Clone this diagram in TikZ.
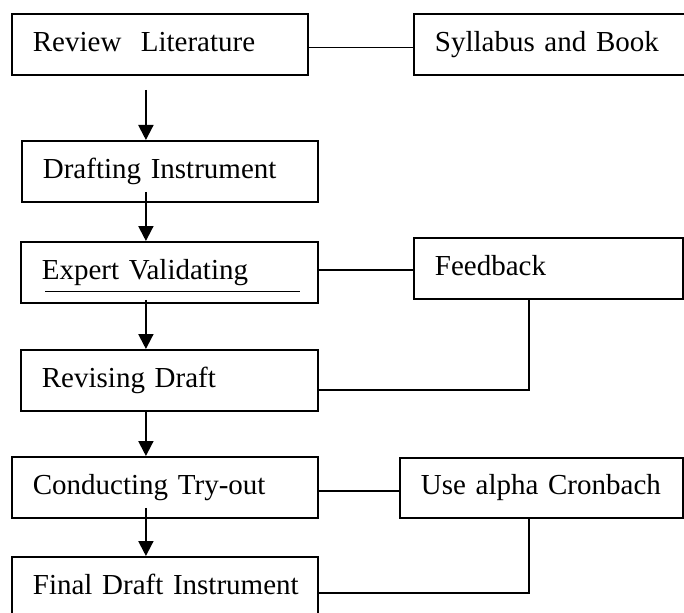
\documentclass[tikz,border=0pt]{standalone}
\usepackage{fontspec}
\setmainfont{Liberation Serif}
\usetikzlibrary{arrows.meta}
\begin{document}
\begin{tikzpicture}[x = 1pt, y = -1pt]
	\tikzstyle{every node} = [font = \fontsize{29}{34}\selectfont]
	\tikzstyle{box} = [draw, line width = 1.8pt, anchor = north west, align = left, minimum height = 61pt, inner xsep = 21pt, inner ysep = 0pt, text height = 20pt, text depth = 6pt]
	\tikzstyle{flow} = [line width = 2pt, -{Triangle[length = 15pt, width = 15pt]}]
	\tikzstyle{link} = [line width = 1.3pt]
	\useasboundingbox (0,0) rectangle (684,612);
	\clip (0,0) rectangle (684,612);

	% left column
	\node [box, text width = 254pt] (rev) at (11,13) {\mbox{Review\ \ Literature}};
	\node [box, text width = 254pt] (draft) at (21,140) {\mbox{Drafting Instrument}};
	\node [box, text width = 255pt] (exp) at (20,241) {\mbox{Expert Validating}};
	\node [box, text width = 255pt] (revd) at (20,349) {\mbox{Revising Draft}};
	\node [box, text width = 264pt] (try) at (11,456) {\mbox{Conducting Try-out}};
	\node [box, text width = 264pt] (fin) at (11,556) {\mbox{Final Draft Instrument}};

	% right column
	\node [box, text width = 248pt] (syl) at (413,13) {\mbox{Syllabus and Book}};
	\node [box, text width = 227pt] (fb) at (413,237) {\mbox{Feedback}};
	\node [box, text width = 241pt, minimum height = 60pt] (alpha) at (399,457) {\mbox{Use alpha Cronbach}};

	\draw [line width = 1.3pt] ([xshift = 25pt, yshift = 12pt]exp.south west) -- ([xshift = -19pt, yshift = 12pt]exp.south east); %underline

	\draw [flow] ([xshift = -14pt, yshift = -14pt]rev.south) -- ([xshift = -24pt]draft.north); %rev to draft
	\draw [flow] ([xshift = -24pt, yshift = 11pt]draft.south) -- ([xshift = -23.5pt]exp.north); %draft to exp
	\draw [flow] ([xshift = -23.5pt, yshift = 4pt]exp.south) -- ([xshift = -23.5pt]revd.north); %exp to revd
	\draw [flow] ([xshift = -23.5pt]revd.south) -- ([xshift = -19pt]try.north); %revd to try
	\draw [flow] ([xshift = -19pt, yshift = 11pt]try.south) -- ([xshift = -19pt]fin.north); %try to fin

	\draw [link] ([yshift = -3pt]rev.east) -- ([yshift = -3pt]syl.west); %rev to syl
	\draw [link] ([yshift = 2.5pt]exp.east) -- ([yshift = -1.5pt]fb.west); %exp to fb
	\draw [link] ([xshift = -19.5pt]fb.south) |- ([yshift = -9.5pt]revd.east); %fb back to revd
	\draw [link] ([yshift = -3.5pt]try.east) -- ([yshift = -3pt]alpha.west); %try to alpha
	\draw [link] ([xshift = -12.5pt]alpha.south) |- ([yshift = -5.5pt]fin.east); %alpha back to fin
\end{tikzpicture}
\end{document}
